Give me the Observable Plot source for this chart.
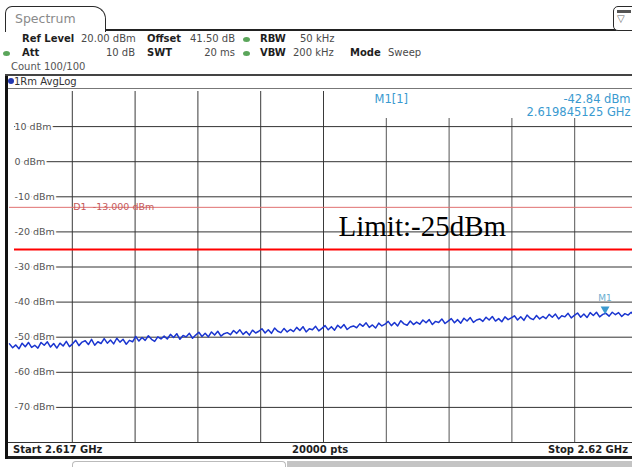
<!DOCTYPE html>
<html><head><meta charset="utf-8">
<script src="https://cdn.jsdelivr.net/npm/d3@7"></script>
<script src="https://cdn.jsdelivr.net/npm/@observablehq/plot@0.6"></script>
<style>
body{margin:0;background:#fff;}
#wrap{position:relative;width:632px;height:467px;overflow:hidden;background:#fff;font-family:"DejaVu Sans",Verdana,sans-serif;font-size:10px;color:#4a4a4a;}
.t{position:absolute;white-space:nowrap;line-height:12px;height:12px;}
.b{font-weight:bold;color:#1e1e1e;}
.gd{position:absolute;width:7px;height:5px;border-radius:50%;background:#5aa55a;}
.ln{position:absolute;}
#plot{position:absolute;left:0;top:90px;width:640px;height:353px;}
</style></head>
<body><div id="wrap">
  <div class="ln" style="left:5px;top:6px;width:99px;height:25px;border:1.5px solid #2a2a2a;border-bottom:none;border-radius:7px 13px 0 0;background:#fff;"></div>
  <div class="t" style="left:15px;top:11px;height:15px;line-height:15px;font-size:12.5px;color:#8a8a8a;">Spectrum</div>
  <div class="ln" style="left:105px;top:29px;width:527px;height:2px;background:#222;"></div>
  <div class="ln" style="left:613px;top:6px;width:22px;height:23px;border:1.5px solid #2a2a2a;border-radius:5px;background:#fff;"></div>
  <div class="ln" style="left:617px;top:10px;width:14px;height:3px;background:#555;"></div>
  <div class="t" style="left:617px;top:13px;font-size:10px;color:#666;">▽</div>

  <div class="t b" style="left:22px;top:33px;">Ref Level</div>
  <div class="t" style="left:81px;top:33px;">20.00 dBm</div>
  <div class="t b" style="left:147px;top:33px;">Offset</div>
  <div class="t" style="left:190px;top:33px;">41.50 dB</div>
  <div class="gd" style="left:243px;top:37px;"></div>
  <div class="t b" style="left:260px;top:33px;">RBW</div>
  <div class="t" style="left:300px;top:33px;">50 kHz</div>

  <div class="gd" style="left:3px;top:51px;"></div>
  <div class="t b" style="left:22px;top:47px;">Att</div>
  <div class="t" style="right:497px;top:47px;">10 dB</div>
  <div class="t b" style="left:147px;top:47px;">SWT</div>
  <div class="t" style="right:397px;top:47px;">20 ms</div>
  <div class="gd" style="left:243px;top:51px;"></div>
  <div class="t b" style="left:260px;top:47px;">VBW</div>
  <div class="t" style="left:293px;top:47px;">200 kHz</div>
  <div class="t b" style="left:350px;top:47px;">Mode</div>
  <div class="t" style="left:388px;top:47px;">Sweep</div>

  <div class="t" style="left:11px;top:61px;color:#555;">Count 100/100</div>

  <div class="ln" style="left:5px;top:74px;width:627px;height:2px;background:#444;"></div>
  <div class="ln" style="left:8px;top:78px;width:6px;height:6px;border-radius:50%;background:#2438b0;"></div>
  <div class="t" style="left:14px;top:76px;color:#333;">1Rm AvgLog</div>
  <div class="ln" style="left:8px;top:88px;width:624px;height:1px;background:#777;"></div>

  <div id="plot"></div>

  <div class="ln" style="left:8px;top:442px;width:624px;height:1px;background:#333;"></div>
  <div class="t b" style="left:13px;top:444px;">Start 2.617 GHz</div>
  <div class="t b" style="left:292px;top:444px;">20000 pts</div>
  <div class="t b" style="right:4px;top:444px;">Stop 2.62 GHz</div>
  <div class="ln" style="left:5px;top:456px;width:627px;height:3px;background:#1e1e1e;"></div>
  <div class="ln" style="left:5px;top:76px;width:3px;height:383px;background:#111;"></div>
  <div class="ln" style="left:287px;top:461px;width:345px;height:6px;background:#c4c4c4;"></div>
  <div class="ln" style="left:72px;top:461px;width:212px;height:6px;border:1px solid #bbb;border-bottom:none;border-radius:4px 4px 0 0;"></div>
</div>
<script>
const startGHz = 2.617;
const stopGHz = 2.620;
const refLevel = 20;
const bottomLevel = -80;
const yTicks = [10, 0, -10, -20, -30, -40, -50, -60, -70];
const xGrid = [2.6173, 2.6176, 2.6179, 2.6182, 2.6185, 2.6188, 2.6191, 2.6194, 2.6197];
const d1Level = -13;
const limitLevel = -25;
const markerName = "M1";
const markerFreq = 2.619845125;
const markerLevel = -42.84;
const traceLevels = [
  -51.9, -53.0, -52.2, -53.3, -51.7, -52.7, -51.5, -52.9, -52.3, -53.1,
  -51.5, -52.3, -51.3, -52.8, -51.8, -53.1, -51.7, -52.5, -51.2, -52.7,
  -51.9, -50.9, -52.4, -51.4, -51.0, -52.1, -50.6, -52.3, -51.3, -51.8,
  -50.4, -51.7, -50.8, -51.9, -50.3, -51.4, -50.6, -52.0, -50.9, -51.3,
  -49.8, -51.1, -50.1, -50.9, -49.6, -50.6, -51.2, -49.9, -50.5, -49.7,
  -50.5, -49.2, -50.1, -49.0, -50.6, -49.5, -49.9, -48.9, -50.3, -49.4,
  -48.6, -49.8, -48.9, -49.9, -48.5, -49.4, -48.3, -49.7, -49.0, -48.7,
  -49.3, -48.1, -48.9, -47.9, -49.2, -48.4, -49.4, -48.0, -48.8, -48.3,
  -47.6, -48.8, -47.9, -48.9, -47.4, -48.3, -48.7, -47.5, -48.5, -47.8,
  -48.4, -47.2, -48.1, -47.0, -48.5, -47.6, -47.9, -46.9, -48.2, -47.5,
  -46.7, -47.9, -47.0, -48.0, -46.6, -47.4, -46.4, -47.8, -47.1, -46.8,
  -47.3, -46.2, -46.9, -45.9, -47.2, -46.5, -47.4, -46.0, -46.8, -46.3,
  -45.5, -46.7, -45.8, -46.8, -45.3, -46.2, -46.6, -45.4, -46.4, -45.7,
  -46.3, -45.1, -45.9, -45.0, -46.4, -45.5, -45.8, -44.8, -46.1, -45.4,
  -44.7, -45.9, -45.0, -46.0, -44.6, -45.4, -44.4, -45.8, -45.1, -44.8,
  -45.5, -44.3, -45.1, -44.1, -45.4, -44.7, -45.6, -44.2, -45.0, -44.5,
  -43.9, -45.1, -44.2, -45.2, -43.7, -44.6, -45.0, -43.8, -44.8, -44.1,
  -44.7, -43.5, -44.3, -43.4, -44.8, -43.9, -44.2, -43.2, -44.5, -43.8,
  -43.1, -44.3, -43.4, -44.4, -43.0, -43.8, -42.9, -44.2, -43.5, -43.2,
  -44.0, -42.9, -43.6, -43.0, -44.1, -43.3, -43.7, -42.9, -43.9, -43.2
];

const step = (stopGHz - startGHz) / (traceLevels.length - 1);
const trace = traceLevels.map((v, i) => ({f: startGHz + i * step, v}));
const marker = [{f: markerFreq, v: markerLevel}];
const blue = "#3a9ad0";

const chart = Plot.plot({
  width: 640, height: 353,
  marginLeft: 9, marginRight: 3, marginTop: 1, marginBottom: 1,
  x: {domain: [startGHz, stopGHz], axis: null},
  y: {domain: [bottomLevel, refLevel], axis: null},
  style: {background: "transparent", fontFamily: "DejaVu Sans, Verdana, sans-serif"},
  marks: [
    Plot.ruleX(xGrid.slice(0, 5), {stroke: "#3a3a3a", strokeWidth: 1}),
    Plot.ruleX(xGrid.slice(5), {stroke: "#555", strokeWidth: 1, insetTop: 27}),
    Plot.ruleY(yTicks, {stroke: "#333", strokeWidth: 1, insetLeft: 5}),
    Plot.text(yTicks, {y: d => d, text: d => `${d} dBm`, frameAnchor: "left", dx: 5, textAnchor: "start",
      fill: "#555", stroke: "white", strokeWidth: 4, paintOrder: "stroke", fontSize: 9.5}),
    Plot.ruleY([d1Level], {stroke: "#e07070", strokeWidth: 1}),
    Plot.text([d1Level], {x: () => xGrid[0], y: d => d, text: d => `D1\u00a0\u00a0${d.toFixed(3)} dBm`,
      dx: 1, textAnchor: "start", lineAnchor: "middle", fill: "#c45a5a", fontSize: 9.5}),
    Plot.ruleY([limitLevel], {stroke: "#ff0000", strokeWidth: 2, insetLeft: 5}),
    Plot.text([limitLevel], {y: d => d, frameAnchor: "left", dx: 329, dy: -23, textAnchor: "start", lineAnchor: "middle",
      text: d => `Limit:${d}dBm`, fontFamily: "Liberation Serif, Times New Roman, serif", fontSize: 29, fill: "black"}),
    Plot.line(trace, {x: "f", y: "v", stroke: "#1a35d0", strokeWidth: 1.5}),
    Plot.dot(marker, {x: "f", y: "v", symbol: "triangle", rotate: 180, r: 3.3, fill: blue, stroke: "none", dy: -3}),
    Plot.text(marker, {x: "f", y: "v", text: () => markerName, dy: -14, fill: "#6aaed0", fontSize: 9}),
    Plot.text(marker, {frameAnchor: "top-left", dx: 365, dy: 8, text: () => `${markerName}[1]`, textAnchor: "start",
      lineAnchor: "middle", fill: blue, fontSize: 11.5}),
    Plot.text(marker, {frameAnchor: "top-right", dx: -7, dy: 8, text: d => `${d.v.toFixed(2)} dBm`, textAnchor: "end",
      lineAnchor: "middle", fill: blue, fontSize: 11.5}),
    Plot.text(marker, {frameAnchor: "top-right", dx: -7, dy: 21, text: d => `${d.f.toFixed(9)} GHz`, textAnchor: "end",
      lineAnchor: "middle", fill: blue, fontSize: 11.5})
  ]
});
document.getElementById("plot").appendChild(chart);
</script>
</body></html>
